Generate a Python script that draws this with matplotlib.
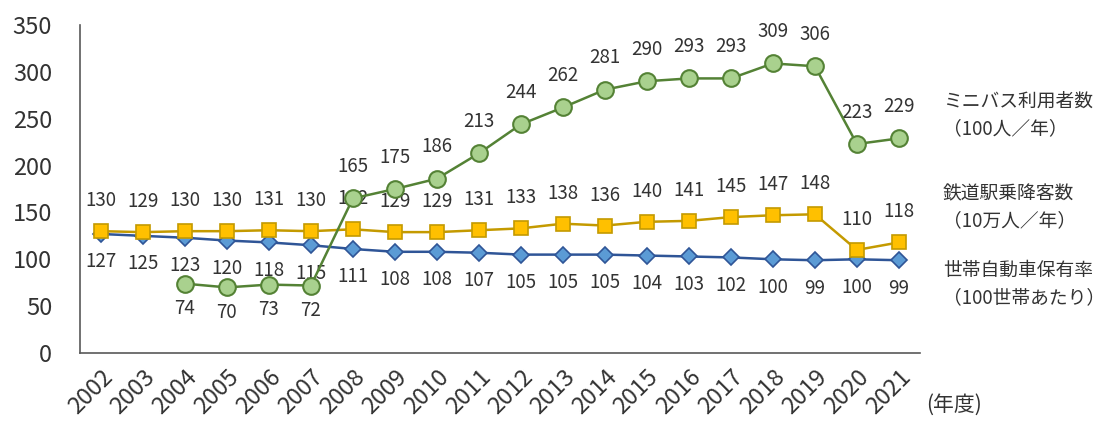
import numpy as np
import matplotlib
matplotlib.use("Agg")
import matplotlib.pyplot as plt

plt.rcParams['font.family'] = ['Noto Sans CJK JP', 'DejaVu Sans']

years = list(range(2002, 2022))
minibus = [np.nan, np.nan, 74, 70, 73, 72, 165, 175, 186, 213, 244, 262, 281, 290, 293, 293, 309, 306, 223, 229]
railway = [130, 129, 130, 130, 131, 130, 132, 129, 129, 131, 133, 138, 136, 140, 141, 145, 147, 148, 110, 118]
cars = [127, 125, 123, 120, 118, 115, 111, 108, 108, 107, 105, 105, 105, 104, 103, 102, 100, 99, 100, 99]
# years where the minibus label sits below the point
minibus_below = [2004, 2005, 2006, 2007]

labels = ["ミニバス利用者数\n（100人／年）", "鉄道駅乗降客数\n（10万人／年）", "世帯自動車保有率\n（100世帯あたり）"]

fig = plt.figure(figsize=(11.15, 4.21), dpi=100)
ax = fig.add_axes([0.0717, 0.1615, 0.7533, 0.7791])

x = np.arange(len(years))
txt_col = '#333333'

ax.plot(x, cars, color='#2F5597', lw=1.8, marker='D', ms=8,
        mfc='#5B9BD5', mec='#2F5597', mew=1.2, zorder=3)
ax.plot(x, railway, color='#C49A00', lw=1.8, marker='s', ms=10,
        mfc='#FFC000', mec='#C49A00', mew=1.2, zorder=4)
ax.plot(x, minibus, color='#548235', lw=1.8, marker='o', ms=12,
        mfc='#A9D18E', mec='#548235', mew=1.5, zorder=5)

for i, yr in enumerate(years):
    ax.annotate(str(cars[i]), (x[i], cars[i]), xytext=(0, -20), textcoords='offset points',
                ha='center', va='center', fontsize=13.5, color=txt_col)
    ax.annotate(str(railway[i]), (x[i], railway[i]), xytext=(0, 22), textcoords='offset points',
                ha='center', va='center', fontsize=13.5, color=txt_col)
    if not np.isnan(minibus[i]):
        off = -18 if yr in minibus_below else 23
        ax.annotate(str(int(minibus[i])), (x[i], minibus[i]), xytext=(0, off), textcoords='offset points',
                    ha='center', va='center', fontsize=13.5, color=txt_col)

ax.set_xlim(-0.5, len(years) - 0.5)
ax.set_ylim(0, 350)
ax.set_yticks(range(0, 351, 50))
ax.set_xticks(x)
ax.set_xticklabels([str(y) for y in years], rotation=45, ha='right', rotation_mode='anchor',
                   fontsize=17, color=txt_col)
ax.tick_params(axis='y', labelsize=17, labelcolor=txt_col, length=0, pad=20)
ax.tick_params(axis='x', length=0, pad=9)
for s in ['top', 'right']:
    ax.spines[s].set_visible(False)
for s in ['left', 'bottom']:
    ax.spines[s].set_color('#595959')
    ax.spines[s].set_linewidth(1.2)

fig.text(943 / 1115, 1 - 115 / 421, labels[0], fontsize=13.5, va='center', ha='left',
         linespacing=1.35, color=txt_col)
fig.text(943 / 1115, 1 - 207 / 421, labels[1], fontsize=13.5, va='center', ha='left',
         linespacing=1.35, color=txt_col)
fig.text(943 / 1115, 1 - 284 / 421, labels[2], fontsize=13.5, va='center', ha='left',
         linespacing=1.35, color=txt_col)
fig.text(926 / 1115, 1 - 405 / 421, "(年度)", fontsize=15, va='center', ha='left', color=txt_col)

fig.savefig("out.png", dpi=100)
